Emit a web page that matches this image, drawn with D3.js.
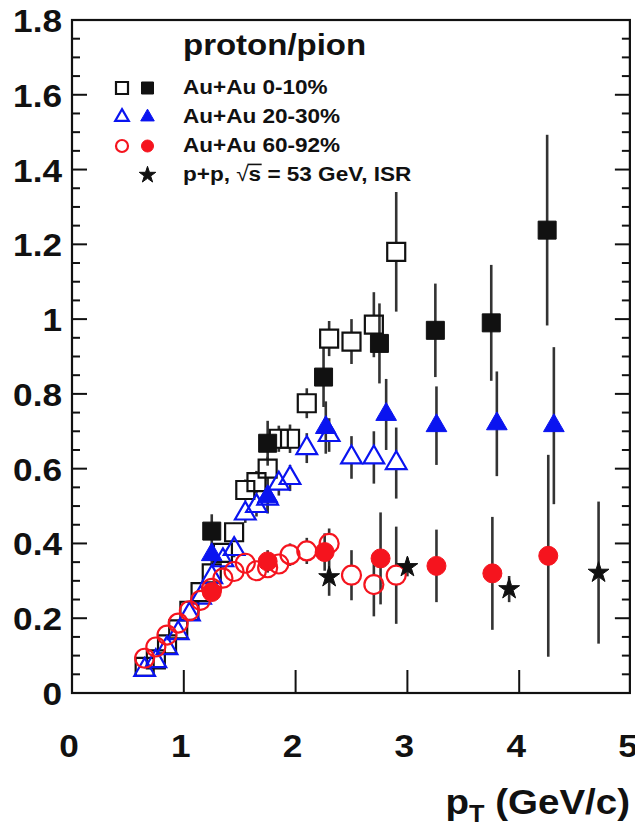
<!DOCTYPE html>
<html>
<head>
<meta charset="utf-8">
<script src="https://cdn.jsdelivr.net/npm/d3@7"></script>
<style>
  html, body { margin: 0; padding: 0; background: #fff; }
  svg { display: block; }
  text { font-family: "Liberation Sans", Arial, sans-serif; font-weight: bold; fill: #111; }
</style>
</head>
<body>
<svg id="chart" width="635" height="826"></svg>
<script>
// ---- proton/pion ratio vs pT ----
// Au+Au 0-10%, open squares (low pT binning)
const ptLow = [0.65, 0.75, 0.85, 0.95, 1.05, 1.15, 1.25, 1.35, 1.45, 1.55, 1.65, 1.75, 1.85, 1.95, 2.1, 2.3, 2.5, 2.7, 2.9];
const central0010Open = [0.07, 0.09, 0.13, 0.17, 0.22, 0.27, 0.32, 0.375, 0.43, 0.543, 0.564, 0.60, 0.68, 0.68, 0.775, 0.948, 0.94, 0.985, 1.18];
const central0010OpenErr = [0.01, 0.01, 0.012, 0.014, 0.016, 0.018, 0.02, 0.022, 0.025, 0.028, 0.03, 0.032, 0.035, 0.038, 0.04, 0.047, 0.06, 0.087, 0.16];
// Au+Au 20-30%, open triangles
const mid2030Open = [0.062, 0.085, 0.12, 0.16, 0.21, 0.255, 0.31, 0.355, 0.385, 0.48, 0.50, 0.52, 0.56, 0.575, 0.655, 0.69, 0.63, 0.63, 0.615];
const mid2030OpenErr = [0.008, 0.01, 0.01, 0.012, 0.014, 0.016, 0.018, 0.02, 0.022, 0.025, 0.028, 0.03, 0.032, 0.035, 0.04, 0.045, 0.057, 0.07, 0.095];
// Au+Au 60-92%, open circles
const periph6092Open = [0.093, 0.123, 0.155, 0.187, 0.22, 0.248, 0.28, 0.307, 0.325, 0.347, 0.327, 0.335, 0.345, 0.37, 0.38, 0.40, 0.315, 0.29, 0.315];
const periph6092OpenErr = [0.008, 0.009, 0.01, 0.011, 0.012, 0.013, 0.014, 0.015, 0.016, 0.018, 0.02, 0.022, 0.025, 0.03, 0.035, 0.04, 0.067, 0.085, 0.13];

// high pT binning, filled symbols
const ptHighSq = [1.25, 1.75, 2.25, 2.75, 3.25, 3.75, 4.25];
const central0010Fill = [0.433, 0.668, 0.845, 0.935, 0.97, 0.99, 1.238];
const central0010FillErr = [0.045, 0.06, 0.08, 0.107, 0.125, 0.155, 0.255];
const ptHighTri = [1.25, 1.75, 2.27, 2.81, 3.26, 3.80, 4.31];
const mid2030Fill = [0.37, 0.525, 0.71, 0.745, 0.715, 0.72, 0.715];
const mid2030FillErr = [0.03, 0.045, 0.07, 0.095, 0.105, 0.14, 0.21];
const ptHighCirc = [1.25, 1.75, 2.26, 2.76, 3.26, 3.76, 4.26];
const periph6092Fill = [0.27, 0.352, 0.377, 0.36, 0.34, 0.32, 0.367];
const periph6092FillErr = [0.02, 0.03, 0.05, 0.123, 0.097, 0.151, 0.27];

// p+p at sqrt(s) = 53 GeV, ISR
const ptPP = [2.3, 3.0, 3.91, 4.71];
const ppISR = [0.31, 0.337, 0.278, 0.322];
const ppISRErr = [0.05, 0.025, 0.035, 0.19];

// axis ticks
const yTickLabels = [0, 0.2, 0.4, 0.6, 0.8, 1, 1.2, 1.4, 1.6, 1.8];
const xTickLabels = [0, 1, 2, 3, 4, 5];
const xMajorTicks = [1, 2, 3, 4];

const legendTitle = "proton/pion";
const legendRows = ["Au+Au 0-10%", "Au+Au 20-30%", "Au+Au 60-92%"];

// ---------------------------------------------------------------
const svg = d3.select("#chart");
const STRETCH = 1.1;
const BLUE = "#0a14f0", RED = "#f5141e", BLACK = "#111", BAR = "#333";

const x = d3.scaleLinear().domain([0, 5]).range([72, 631]);
const y = d3.scaleLinear().domain([0, 1.8]).range([693, 20]);
const xMax = 4.99;

function stext(g, px, py, str, size, anchor) {
  return g.append("text")
    .attr("transform", `translate(${px},${py}) scale(${STRETCH},1)`)
    .attr("font-size", size)
    .attr("text-anchor", anchor || "start")
    .text(str);
}

// frame
const frameL = x(0), frameR = x(xMax), frameT = y(1.8), frameB = y(0);
svg.append("rect")
  .attr("x", frameL).attr("y", frameT)
  .attr("width", frameR - frameL).attr("height", frameB - frameT)
  .attr("fill", "none").attr("stroke", BLACK).attr("stroke-width", 2.2);

// y ticks on both sides (major every 0.2, minor every 0.05)
const yMinor = d3.range(0, 1.8001, 0.05).map(v => +v.toFixed(2));
const tickG = svg.append("g").attr("stroke", BLACK).attr("stroke-width", 2);
yMinor.forEach(v => {
  const major = Math.abs(v / 0.2 - Math.round(v / 0.2)) < 1e-6;
  const len = major ? 15 : 8;
  tickG.append("line").attr("x1", frameL).attr("x2", frameL + len).attr("y1", y(v)).attr("y2", y(v));
  tickG.append("line").attr("x1", frameR).attr("x2", frameR - len).attr("y1", y(v)).attr("y2", y(v));
});
xMajorTicks.forEach(v => {
  tickG.append("line").attr("x1", x(v)).attr("x2", x(v)).attr("y1", frameB).attr("y2", frameB - 23);
});

// tick labels
const fmt = d3.format("~g");
const labG = svg.append("g");
yTickLabels.forEach(v => stext(labG, 62, y(v) + 12, fmt(v), 32, "end"));
xTickLabels.forEach(v => stext(labG, x(v) - 3, 757, fmt(v), 32, "middle"));

// axis title p_T (GeV/c)
const axT = labG.append("text")
  .attr("transform", `translate(630,814) scale(${STRETCH},1)`)
  .attr("font-size", 35).attr("text-anchor", "end");
axT.append("tspan").text("p");
axT.append("tspan").attr("font-size", 23).attr("dy", 8).text("T");
axT.append("tspan").attr("dy", -8).text(" (GeV/c)");

// ---- markers ----
const SQ = 18 * 18, TRI = 185, CIRC = Math.PI * 9.5 * 9.5, STAR = 135;
const triHalf = Math.sqrt(TRI / (Math.sqrt(3) * 3)); // centroid-to-base distance
const shapes = {
  square: { type: d3.symbolSquare, size: SQ, up: 9, down: 9 },
  triangle: { type: d3.symbolTriangle, size: TRI, up: 2 * triHalf, down: triHalf },
  circle: { type: d3.symbolCircle, size: CIRC, up: 9.5, down: 9.5 },
  star: { type: d3.symbolStar, size: STAR, up: 0, down: 0 }
};

function makeSeries(xs, vals, errs, shape, color, filled) {
  return xs.map((p, i) => ({ p, v: vals[i], e: errs[i], shape, color, filled }));
}

const series = [
  makeSeries(ptLow, central0010Open, central0010OpenErr, "square", BLACK, false),
  makeSeries(ptLow, mid2030Open, mid2030OpenErr, "triangle", BLUE, false),
  makeSeries(ptLow, periph6092Open, periph6092OpenErr, "circle", RED, false),
  makeSeries(ptHighSq, central0010Fill, central0010FillErr, "square", BLACK, true),
  makeSeries(ptHighTri, mid2030Fill, mid2030FillErr, "triangle", BLUE, true),
  makeSeries(ptHighCirc, periph6092Fill, periph6092FillErr, "circle", RED, true),
  makeSeries(ptPP, ppISR, ppISRErr, "star", BLACK, true)
];

const plot = svg.append("g");
// error bars (open markers leave their interior free)
const barG = plot.append("g").attr("stroke", BAR).attr("stroke-width", 2.6);
series.forEach(s => s.forEach(d => {
  const cx = x(d.p), cy = y(d.v);
  const yTop = y(d.v + d.e), yBot = y(d.v - d.e);
  const sh = shapes[d.shape];
  const gapUp = d.filled ? 0 : sh.up, gapDown = d.filled ? 0 : sh.down;
  if (cy - gapUp > yTop) barG.append("line").attr("x1", cx).attr("x2", cx).attr("y1", yTop).attr("y2", cy - gapUp);
  if (cy + gapDown < yBot) barG.append("line").attr("x1", cx).attr("x2", cx).attr("y1", cy + gapDown).attr("y2", yBot);
}));

function drawMarker(g, cx, cy, shape, size, color, filled) {
  g.append("path")
    .attr("d", d3.symbol().type(shapes[shape].type).size(size)())
    .attr("transform", `translate(${cx},${cy})`)
    .attr("fill", filled ? color : "none")
    .attr("stroke", color)
    .attr("stroke-width", filled ? 1 : 2.2);
}

const markG = plot.append("g");
series.forEach(s => s.forEach(d => {
  drawMarker(markG, x(d.p), y(d.v), d.shape, shapes[d.shape].size, d.color, d.filled);
}));

// ---- legend ----
const leg = svg.append("g");
stext(leg, 183, 55, legendTitle, 30, "start");
const rowY = [88, 117, 146, 175];
const legShapes = [["square", BLACK, 12 * 12], ["triangle", BLUE, 80], ["circle", RED, Math.PI * 6 * 6]];
legShapes.forEach(([sh, col, sz], i) => {
  drawMarker(leg, 122, rowY[i], sh, sz, col, false);
  drawMarker(leg, 147.5, rowY[i], sh, sz, col, true);
  stext(leg, 183, rowY[i] + 6, legendRows[i], 20.5, "start");
});
drawMarker(leg, 147.5, rowY[3], "star", 85, BLACK, true);

// p+p, sqrt(s) = 53 GeV, ISR  (radical with bar over s)
const ppG = leg.append("g").attr("transform", `translate(183,${rowY[3] + 6}) scale(${STRETCH},1)`);
const ppT = ppG.append("text").attr("font-size", 20.5);
ppT.append("tspan").text("p+p, ");
ppT.append("tspan").attr("font-weight", "normal").text("\u221A");
ppT.append("tspan").text("s");
ppT.append("tspan").text(" = 53 GeV, ISR");
const node = ppT.node();
const full = "p+p, \u221As";
const sIdx = full.length - 1;
const ext = node.getExtentOfChar(sIdx);
const rad = node.getExtentOfChar(sIdx - 1);
ppG.append("line")
  .attr("x1", rad.x + rad.width - 1).attr("x2", ext.x + ext.width + 0.5)
  .attr("y1", rad.y + 1.5).attr("y2", rad.y + 1.5)
  .attr("stroke", BLACK).attr("stroke-width", 1.6);
</script>
</body>
</html>
